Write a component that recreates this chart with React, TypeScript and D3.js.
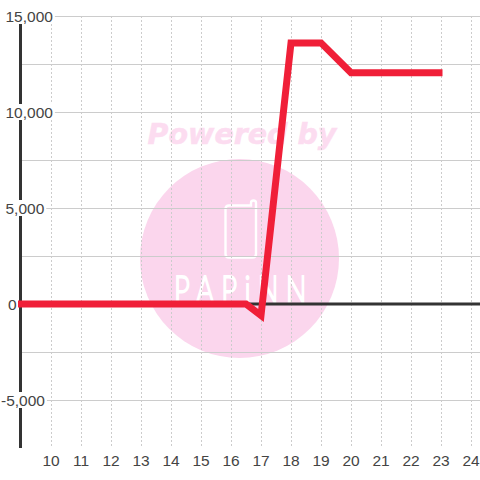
import React from "react";
import * as d3 from "d3";

const xTickValues = [10, 11, 12, 13, 14, 15, 16, 17, 18, 19, 20, 21, 22, 23, 24];
const yMajorTicks = [15000, 10000, 5000, 0, -5000];
const yMinorTicks = [12500, 7500, 2500, -2500];
const yTickLabels = ["15,000", "10,000", "5,000", "0", "-5,000"];
const seriesX = [8.9, 16.5, 17, 18, 19, 20, 23.05];
const seriesY = [0, 0, -600, 13600, 13600, 12050, 12050];

const W = 480;
const H = 480;
const left = 20;
const top = 16;
const bottom = 448;

const x = d3.scaleLinear().domain([9, 24]).range([21, 471]);
const y = d3.scaleLinear().domain([-7500, 15000]).range([bottom, top]);
const line = d3
  .line<number>()
  .x((d) => x(d))
  .y((_, i) => y(seriesY[i]));

const GRID = "#cccccc";
const DARK = "#333333";
const TEXT = "#444444";
const RED = "#f01f38";
const PINK = "#fbd6ed";
const FONT = "'Liberation Sans', Arial, sans-serif";
const FONT_SIZE = 15.5;

function labelBox(label: string) {
  const w = d3.sum(label.split(""), (c) => (c === "," ? 0.278 : c === "-" ? 0.333 : 0.556)) * FONT_SIZE;
  const start = label.startsWith("-") ? 1 : label === "0" ? 8 : 5.5;
  return { start, w };
}

export default function App() {
  return (
    <svg
      width={W}
      height={H}
      viewBox={`0 0 ${W} ${H}`}
      style={{ position: "fixed", left: 0, top: 0, display: "block", background: "#fff" }}
    >
      <g>
        <text
          x={242}
          y={144}
          textAnchor="middle"
          fontFamily="'DejaVu Sans'"
          fontWeight="bold"
          fontStyle="italic"
          fontSize={28.5}
          fill="#fcdcf0"
          stroke="#fcdcf0"
          strokeWidth={0.5}
        >
          Powered by
        </text>
        <circle cx={239.5} cy={258.5} r={99.5} fill={PINK} />
        <path
          d="M245.5 205.5 H229 Q225.5 205.5 225.5 209 V254 Q225.5 257.5 229 257.5 H252.5 Q256 257.5 256 254 V203 A2.3 2.3 0 0 0 251 203 V205.5 H245.5"
          fill="none"
          stroke="#fff"
          strokeWidth={2.4}
        />
        <g transform="translate(174,303) scale(0.72,1)">
          <text
            x={0}
            y={0}
            fontFamily="Lato"
            fontWeight={300}
            fontSize={38}
            textLength={184}
            lengthAdjust="spacing"
            fill="#fff"
            stroke="#fff"
            strokeWidth={1.8}
          >
            PAPiNN
          </text>
        </g>
      </g>

      {xTickValues.map((t) => (
        <line key={t} x1={x(t) + 0.5} x2={x(t) + 0.5} y1={top} y2={bottom} stroke={GRID} strokeDasharray="2,2" />
      ))}
      {yMajorTicks.concat(yMinorTicks).map((t) => (
        <line key={t} x1={left} x2={W} y1={y(t) + 0.5} y2={y(t) + 0.5} stroke={GRID} />
      ))}

      <line x1={left + 0.5} x2={left + 0.5} y1={top} y2={bottom} stroke={DARK} strokeWidth={3} />
      <line x1={left} x2={W} y1={y(0)} y2={y(0)} stroke={DARK} strokeWidth={3} />

      {yMajorTicks.map((t, i) => {
        const { start, w } = labelBox(yTickLabels[i]);
        return (
          <g key={t}>
            <rect x={0} y={y(t) - 8} width={start + w + 2} height={16} fill="#fff" />
            <text x={start} y={y(t) + 5.5} fontFamily={FONT} fontSize={FONT_SIZE} fill={TEXT}>
              {yTickLabels[i]}
            </text>
          </g>
        );
      })}

      {xTickValues.map((t) => (
        <text key={t} x={x(t)} y={466} textAnchor="middle" fontFamily={FONT} fontSize={FONT_SIZE} fill={TEXT}>
          {t}
        </text>
      ))}

      <path
        d={line(seriesX) ?? ""}
        fill="none"
        stroke={RED}
        strokeWidth={7}
        strokeLinejoin="miter"
        strokeLinecap="butt"
      />
    </svg>
  );
}
